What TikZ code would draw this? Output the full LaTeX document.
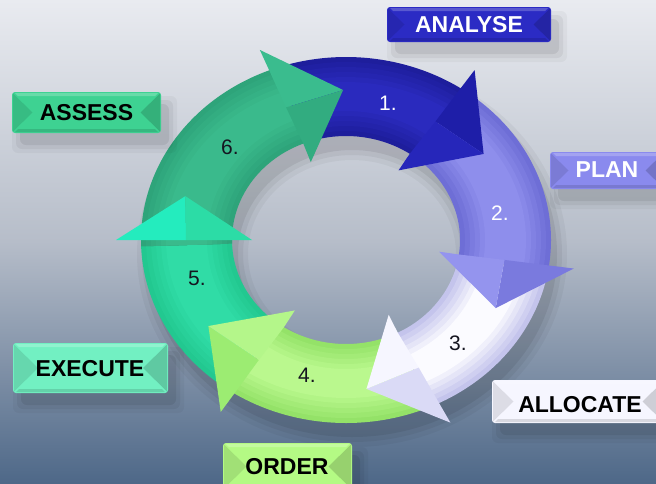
\documentclass[tikz,border=0pt]{standalone}
\usepackage{fontspec}
\setmainfont{Liberation Sans}
\usetikzlibrary{calc}
\definecolor{bgtop}{HTML}{E9EBF0}
\definecolor{bgmid}{HTML}{B6BDC9}
\definecolor{bgbot}{HTML}{4E6888}
\definecolor{conec}{HTML}{2A2ABE}\definecolor{conee}{HTML}{1E1E9C}
\definecolor{ctwoc}{HTML}{8E8EEC}\definecolor{ctwoe}{HTML}{6E6ED6}
\definecolor{cthreec}{HTML}{FBFBFF}\definecolor{cthreee}{HTML}{C4C4EC}
\definecolor{cfourc}{HTML}{BAF88E}\definecolor{cfoure}{HTML}{94E268}
\definecolor{cfivec}{HTML}{30DCA6}\definecolor{cfivee}{HTML}{22C890}
\definecolor{csixc}{HTML}{3ABA8C}\definecolor{csixe}{HTML}{2EA47A}
\definecolor{honeo}{HTML}{1E1EA8}
\definecolor{honei}{HTML}{2626BA}
\definecolor{htwoo}{HTML}{7A7ADE}
\definecolor{htwoi}{HTML}{9494EE}
\definecolor{hthreeo}{HTML}{DADAF6}
\definecolor{hthreei}{HTML}{F6F6FF}
\definecolor{hfouro}{HTML}{9CEC72}
\definecolor{hfouri}{HTML}{B4F68A}
\definecolor{hfiveo}{HTML}{24ECBE}
\definecolor{hfivei}{HTML}{2CDCA6}
\definecolor{hsixo}{HTML}{3ABC8E}
\definecolor{hsixi}{HTML}{32AC80}
\definecolor{lanalyse}{HTML}{2B2BC4}
\definecolor{lplan}{HTML}{8A8AEE}
\definecolor{lallocate}{HTML}{F6F6FF}
\definecolor{lorder}{HTML}{B4FA84}
\definecolor{lexecute}{HTML}{72F0C2}
\definecolor{lassess}{HTML}{3ED292}
\definecolor{darknum}{HTML}{151520}
\tikzset{
  lbltext/.style={font=\bfseries\fontsize{23}{26}\selectfont, inner sep=0pt},
  numtext/.style={font=\fontsize{21}{24}\selectfont, inner sep=0pt}
}
% ring band with tube shading: centre colour, edge colour, from angle, to angle (clockwise)
\newcommand\arcband[4]{%
  \foreach \i in {0,...,5}{%
    \pgfmathsetmacro\rox{205-\i*5}\pgfmathsetmacro\roy{183-\i*5}%
    \pgfmathsetmacro\rix{114+\i*5}\pgfmathsetmacro\riy{104+\i*5}%
    \pgfmathtruncatemacro\pp{\i*20}%
    \fill[#1!\pp!#2] (#3:\rox\space and \roy) arc[start angle=#3,end angle=#4,x radius=\rox,y radius=\roy]
      -- (#4:\rix\space and \riy) arc[start angle=#4,end angle=#3,x radius=\rix,y radius=\riy] -- cycle;}}
% arrow head: outer colour, inner colour, base angle, tip angle
\newcommand\arrowhead[4]{%
  \fill[#1] (#3:205 and 183) -- (#3:230 and 205) -- (#4:168 and 150) -- (#3:160 and 143) -- cycle;
  \fill[#2] (#3:160 and 143) -- (#4:168 and 150) -- (#3:94 and 84) -- (#3:114 and 104) -- cycle;}
% label box: x0, y0, x1, y1, colour
\newcommand\lblbox[5]{%
  \foreach \shx/\sho in {8/0.035,4/0.05,0/0.07}{%
    \fill[black,opacity=\sho,rounded corners=6pt] (#1+8-\shx,#2-12+\shx) rectangle (#3+8+\shx,#4-12-\shx);}
  \fill[#5,rounded corners=3pt] (#1,#2) rectangle (#3,#4);
  \fill[black,opacity=0.10] (#1+1,#2-1.5) -- (#1+1,#4+1.5) -- ({#1+((#2)-(#4))/2},{((#2)+(#4))/2}) -- cycle;
  \fill[black,opacity=0.16] (#3-1,#2-1.5) -- (#3-1,#4+1.5) -- ({#3-((#2)-(#4))/2},{((#2)+(#4))/2}) -- cycle;
  \fill[white,opacity=0.22] (#1+3,#2-1) -- (#3-3,#2-1) -- (#3-6,#2-4) -- (#1+6,#2-4) -- cycle;
  \fill[black,opacity=0.12] (#1+3,#4+1) -- (#3-3,#4+1) -- (#3-6,#4+4) -- (#1+6,#4+4) -- cycle;}
\begin{document}
\begin{tikzpicture}[x=1pt,y=1pt]
\useasboundingbox (0,0) rectangle (656,-483);
\clip (0,0) rectangle (656,-483);
\shade[top color=bgtop, bottom color=bgbot, middle color=bgmid] (0,0) rectangle (656,-483);

\begin{scope}[shift={(346,-240)}]
  \foreach \shx/\sho in {10/0.04,5/0.05,0/0.07}{%
    \fill[black,opacity=\sho,even odd rule] (6,-14) ellipse[x radius=205+\shx,y radius=183+\shx]
      (6,-14) ellipse[x radius=114-\shx,y radius=104-\shx];}
  \arcband{conec}{conee}{110}{55}
  \arcband{ctwoc}{ctwoe}{54}{-9}
  \arcband{cthreec}{cthreee}{-10}{-64}
  \arcband{cfourc}{cfoure}{-65}{-124}
  \arcband{cfivec}{cfivee}{-125}{-181}
  \arcband{csixc}{csixe}{-178}{-249}
  \arrowhead{honeo}{honei}{56}{35}
  \arrowhead{htwoo}{htwoi}{-8}{-27}
  \arrowhead{hthreeo}{hthreei}{-63}{-83}
  \arrowhead{hfouro}{hfouri}{-123}{-145}
  \arrowhead{hfiveo}{hfivei}{-180}{-197}
  \arrowhead{hsixo}{hsixi}{-248}{-269}
\end{scope}

\node[numtext,text=white] (n1) at (388,-103) {1.};
\node[numtext,text=white] (n2) at (500,-213) {2.};
\node[numtext,text=darknum] (n3) at (458,-343) {3.};
\node[numtext,text=darknum] (n4) at (307,-375) {4.};
\node[numtext,text=darknum] (n5) at (197,-278) {5.};
\node[numtext,text=darknum] (n6) at (230,-147) {6.};

\lblbox{387}{-7}{551}{-42}{lanalyse}
\node[lbltext,text=white] (analyse) at (469,-24.5) {ANALYSE};
\lblbox{12}{-92}{161}{-133}{lassess}
\node[lbltext,text=black] (assess) at (86.5,-112.8) {ASSESS};
\lblbox{550}{-152}{664}{-189}{lplan}
\node[lbltext,text=white] (plan) at (607,-169.5) {PLAN};
\lblbox{492}{-380}{664}{-423}{lallocate}
\node[lbltext,text=black] (allocate) at (580,-404.5) {ALLOCATE};
\lblbox{13}{-343}{168}{-393}{lexecute}
\node[lbltext,text=black] (execute) at (90,-369) {EXECUTE};
\lblbox{223}{-443}{352}{-490}{lorder}
\node[lbltext,text=black] (order) at (287,-466.5) {ORDER};
\end{tikzpicture}
\end{document}
